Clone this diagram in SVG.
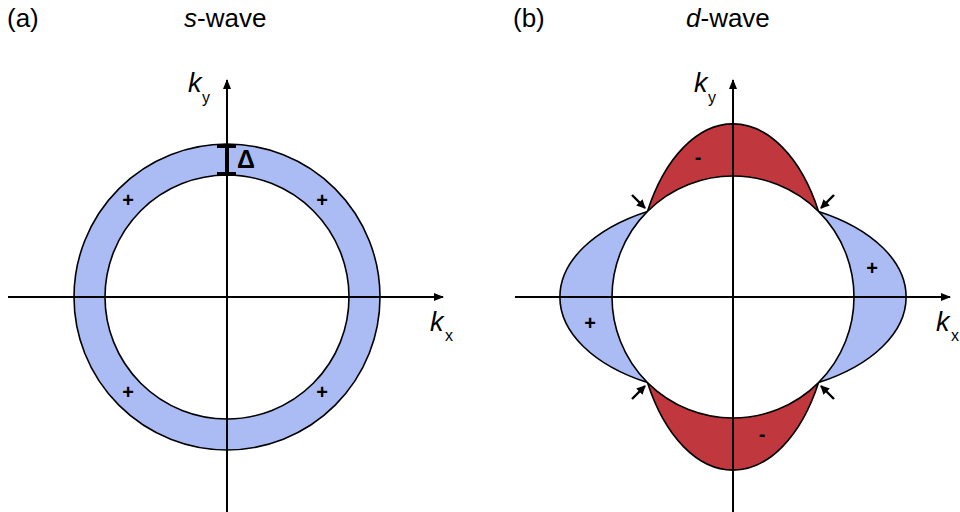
<svg xmlns="http://www.w3.org/2000/svg" width="960" height="512" viewBox="0 0 960 512">
<defs>
<style>
.t{font-family:"Liberation Sans",Arial,sans-serif;fill:#000}
.title{font-size:26px}
.k{font-size:27px;font-style:italic}
.sub{font-size:16px}
.sign{font-size:20px;font-weight:bold;text-anchor:middle}
.blue{fill:#abbcf4;stroke:#000;stroke-width:1.6}
.red{fill:#c1373e;stroke:#000;stroke-width:1.6}
.inner{fill:#fff;stroke:#000;stroke-width:1.6}
.axis{stroke:#000;stroke-width:2;fill:none}
.small{stroke:#000;stroke-width:2.4;fill:none}
</style>
<marker id="ah" viewBox="0 0 10 8" refX="9" refY="4" markerWidth="10" markerHeight="8" markerUnits="userSpaceOnUse" orient="auto">
<path d="M0,0 L10,4 L0,8 z" fill="#000"/>
</marker>
<marker id="sh" viewBox="0 0 9 9" refX="8" refY="4.5" markerWidth="9" markerHeight="9" markerUnits="userSpaceOnUse" orient="auto">
<path d="M0,0 L9,4.5 L0,9 z" fill="#000"/>
</marker>
</defs>

<g id="title-a"><text class="t title" x="7" y="27">(a)</text></g>
<g id="title-s"><text class="t title" x="184" y="27"><tspan font-style="italic">s</tspan>-wave</text></g>
<g id="title-b"><text class="t title" x="513" y="27">(b)</text></g>
<g id="title-d"><text class="t title" x="686" y="27"><tspan font-style="italic">d</tspan>-wave</text></g>

<!-- s-wave -->
<g id="s-gap">
<circle class="blue" cx="227" cy="297" r="153"/>
<circle class="inner" cx="227" cy="297" r="122"/>
</g>

<!-- d-wave lobes -->
<g id="d-lobe-top">
<path class="red" d="M647.44,211.44 A98.4,173 0 0 1 818.56,211.44 Z"/>
</g>
<g id="d-lobe-bottom">
<path class="red" d="M647.44,382.56 A98.4,173 0 0 0 818.56,382.56 Z"/>
</g>
<g id="d-lobe-right">
<path class="blue" d="M818.56,211.44 A173,98.4 0 0 1 818.56,382.56 Z"/>
</g>
<g id="d-lobe-left">
<path class="blue" d="M647.44,211.44 A173,98.4 0 0 0 647.44,382.56 Z"/>
</g>
<g id="d-fermi">
<circle class="inner" cx="733" cy="297" r="121"/>
</g>

<!-- connectors: axes and arrows -->
<g id="connectors">
<line class="axis" x1="8" y1="297" x2="443" y2="297" marker-end="url(#ah)"/>
<line class="axis" x1="227" y1="512" x2="227" y2="80" marker-end="url(#ah)"/>
<line class="axis" x1="515" y1="297" x2="950" y2="297" marker-end="url(#ah)"/>
<line class="axis" x1="733" y1="512" x2="733" y2="80" marker-end="url(#ah)"/>
<line class="small" x1="632" y1="195" x2="645" y2="208" marker-end="url(#sh)"/>
<line class="small" x1="834" y1="195" x2="821" y2="208" marker-end="url(#sh)"/>
<line class="small" x1="632" y1="399" x2="645" y2="386" marker-end="url(#sh)"/>
<line class="small" x1="834" y1="399" x2="821" y2="386" marker-end="url(#sh)"/>
</g>

<!-- Delta marker -->
<g id="delta">
<line x1="227" y1="146" x2="227" y2="174" stroke="#000" stroke-width="4"/>
<line x1="217" y1="146" x2="236" y2="146" stroke="#000" stroke-width="4"/>
<line x1="217" y1="174" x2="236" y2="174" stroke="#000" stroke-width="4"/>
<text class="t" x="237" y="168" font-size="25" font-weight="bold">Δ</text>
</g>

<!-- axis labels -->
<g id="label-ky-a"><text class="t k" x="188" y="92">k</text><text class="t sub" x="202" y="103">y</text></g>
<g id="label-kx-a"><text class="t k" x="430" y="331">k</text><text class="t sub" x="445" y="341">x</text></g>
<g id="label-ky-b"><text class="t k" x="694" y="92">k</text><text class="t sub" x="708" y="103">y</text></g>
<g id="label-kx-b"><text class="t k" x="936" y="331">k</text><text class="t sub" x="951" y="341">x</text></g>

<!-- signs -->
<g id="signs-a">
<text class="t sign" x="128" y="207">+</text>
<text class="t sign" x="322" y="207">+</text>
<text class="t sign" x="128" y="399">+</text>
<text class="t sign" x="322" y="399">+</text>
</g>
<g id="signs-b">
<text class="t sign" x="872" y="275">+</text>
<text class="t sign" x="590" y="330">+</text>
<text class="t sign" x="698" y="164">-</text>
<text class="t sign" x="762" y="441">-</text>
</g>
</svg>
